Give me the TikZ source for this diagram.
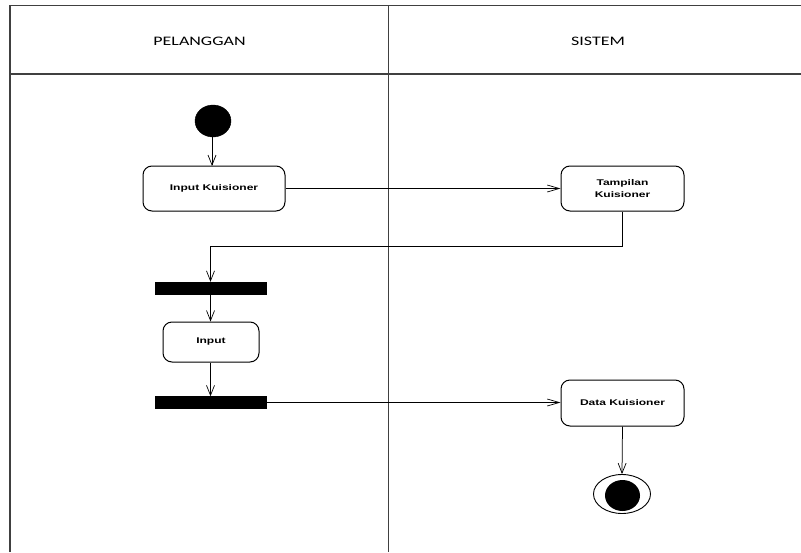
\documentclass[tikz,border=0pt]{standalone}
\usepackage{fontspec}
\setmainfont{Liberation Sans}
\newfontfamily\hdrfont{Carlito}
\usetikzlibrary{arrows.meta,shapes.geometric}
\tikzset{
  frameline/.style={line width=1.3pt,draw=black!75},
  actbox/.style={draw=black,line width=1pt,rounded corners=9pt,fill=white,inner sep=0pt,align=center},
  barnode/.style={draw=black,fill=black,inner sep=0pt,minimum width=111pt,minimum height=12pt},
  flow/.style={draw=black,line width=0.75pt},
  varr/.style={-{Straight Barb[length=10pt,width=8pt,line width=0.7pt]}},
  harr/.style={-{Straight Barb[length=12pt,width=7pt,line width=0.7pt]}},
  lanehdr/.style={font=\hdrfont\fontsize{13}{15}\selectfont,inner sep=0pt},
  lbl/.style={font=\bfseries\fontsize{8.3}{11.5}\selectfont}
}
\newcommand{\wide}[1]{\scalebox{1.45}[1]{#1}}
\begin{document}
\begin{tikzpicture}[x=1pt,y=-1pt]
\useasboundingbox (0,0) rectangle (801,552);
% frame
\draw[frameline] (10,552) -- (10,5.5) -- (801,5.5);
\draw[frameline] (10,74) -- (801,74);
\draw[frameline] (388.5,5.5) -- (388.5,552);
% headers
\node[lanehdr] (h1) at (199.5,41) {\scalebox{1.38}[1]{PELANGGAN}};
\node[lanehdr] (h2) at (598,41) {\scalebox{1.38}[1]{SISTEM}};
% nodes
\node[ellipse,fill=black,draw=black,minimum width=36pt,minimum height=32pt,inner sep=0pt] (start) at (213,121) {};
\node[actbox,minimum width=142pt,minimum height=45pt,lbl] (ik) at (214,188.5) {\wide{Input Kuisioner}};
\node[actbox,minimum width=123pt,minimum height=45pt,lbl] (tk) at (622.5,188.5) {\wide{Tampilan}\\\wide{Kuisioner}};
\node[barnode] (bar1) at (210.5,288) {};
\node[actbox,minimum width=96pt,minimum height=40pt,lbl] (inp) at (211,342) {\wide{Input}};
\node[barnode] (bar2) at (210.5,402.5) {};
\node[actbox,minimum width=123pt,minimum height=46pt,lbl] (dk) at (622.5,403) {\wide{Data Kuisioner}};
\node[ellipse,draw=black,line width=0.9pt,fill=white,minimum width=57pt,minimum height=39pt,inner sep=0pt] (end) at (622,494) {};
\node[ellipse,fill=black,minimum width=35pt,minimum height=31pt,inner sep=0pt] (endin) at (622.5,495.5) {};
% connectors
\draw[flow,varr] (start.south -| 212,0) -- (212,166);
\draw[flow,harr] (ik.east) -- (tk.west);
\draw[flow,varr] (tk.south) -- ++(0,35) -| (bar1.north);
\draw[flow,varr] (bar1.south) -- (inp.north -| bar1.south);
\draw[flow,varr] (inp.south -| bar1.south) -- (bar2.north);
\draw[flow,harr] (bar2.east) -- (dk.west |- bar2.east);
\draw[flow,varr] (dk.south) -- (end.north);
\end{tikzpicture}
\end{document}
